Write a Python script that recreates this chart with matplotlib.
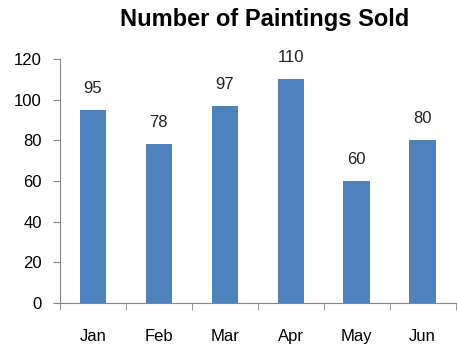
import matplotlib.pyplot as plt

months = ['Jan', 'Feb', 'Mar', 'Apr', 'May', 'Jun']
sold = [95, 78, 97, 110, 60, 80]

plt.rcParams['font.family'] = ['Liberation Sans', 'DejaVu Sans']

fig = plt.figure(figsize=(4.57, 3.49), dpi=100)
ax = fig.add_axes([0.131, 0.132, 0.866, 0.699])

x = range(len(months))
ax.bar(x, sold, width=0.4, color='#4F81BD')

for i, v in zip(x, sold):
    ax.annotate(f'{v}', (i, v), xytext=(0, 10), textcoords='offset points',
                ha='center', va='bottom', fontsize=12, color='#222222')

ax.set_xlim(-0.5, len(months) - 0.5)
ax.set_ylim(0, 120)
ax.set_yticks(range(0, 121, 20))
ax.set_xticks(x)
ax.set_xticklabels(months)
ax.set_xticks([i - 0.5 for i in range(len(months) + 1)], minor=True)
ax.tick_params(axis='x', which='major', length=0, pad=19, labelsize=12)
ax.tick_params(axis='x', which='minor', length=5, color='#868686', direction='out')
ax.tick_params(axis='y', length=5, color='#868686', labelsize=12, pad=8)

for s in ['top', 'right']:
    ax.spines[s].set_visible(False)
for s in ['left', 'bottom']:
    ax.spines[s].set_color('#868686')

fig.text(0.578, 0.943, 'Number of Paintings Sold', ha='center', va='center',
         fontsize=17, fontweight='bold')

fig.savefig('out.png', dpi=100)
